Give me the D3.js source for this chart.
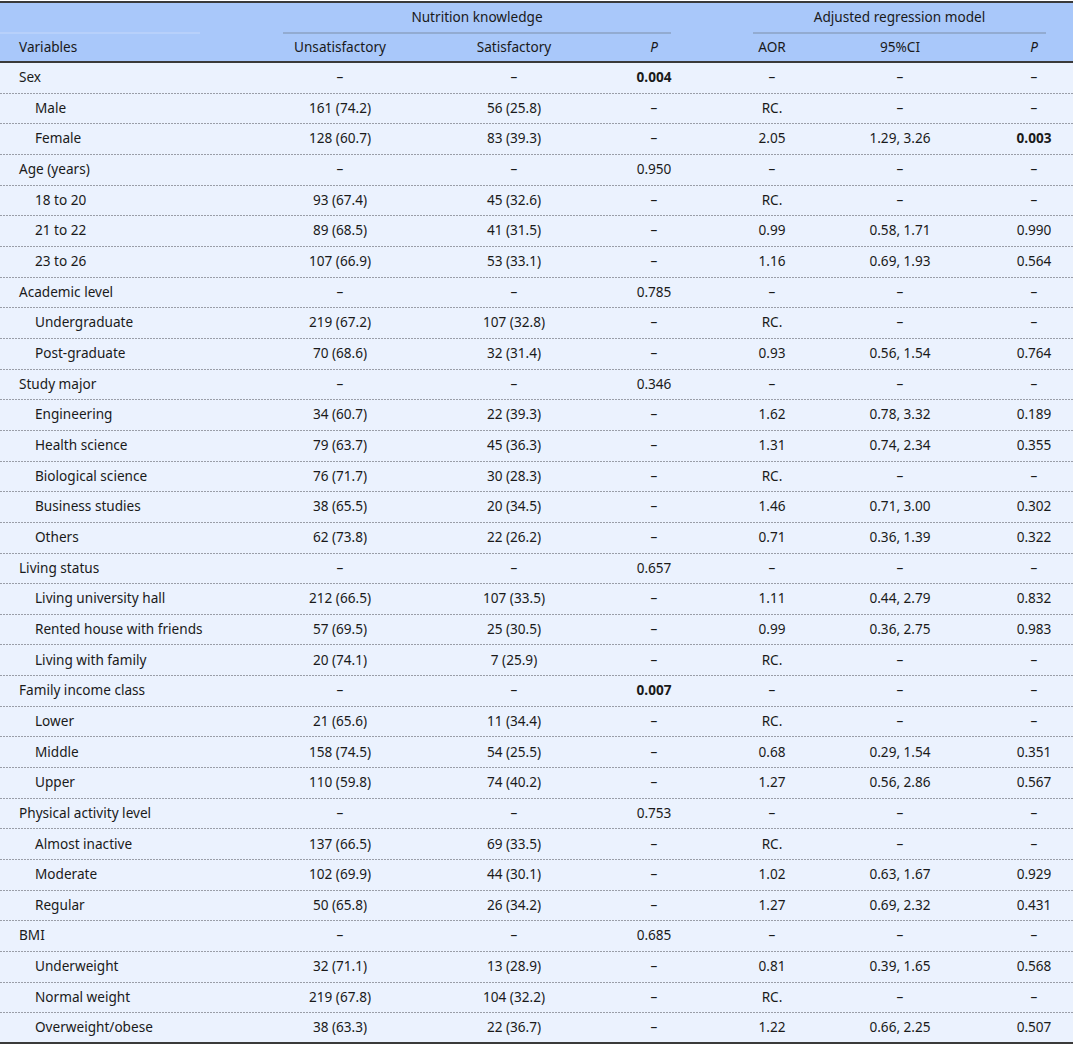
<!DOCTYPE html>
<html>
<head>
<meta charset="utf-8">
<script src="https://cdn.jsdelivr.net/npm/d3@7"></script>
<style>
  body { margin: 0; background: #fff; }
  text { font-family: "Noto Sans", sans-serif; font-size: 13.6px; fill: #1a1a1a; }
</style>
</head>
<body>
<div id="table"></div>
<script>
const W = 1073;
const H = 1046;
const HEAD_TOP = 2;
const HEAD_MID = 33;
const HEAD_BOTTOM = 62;
const BODY_BOTTOM = 1043;

// table content
const variables = [
  "Sex", "Male", "Female",
  "Age (years)", "18 to 20", "21 to 22", "23 to 26",
  "Academic level", "Undergraduate", "Post-graduate",
  "Study major", "Engineering", "Health science", "Biological science", "Business studies", "Others",
  "Living status", "Living university hall", "Rented house with friends", "Living with family",
  "Family income class", "Lower", "Middle", "Upper",
  "Physical activity level", "Almost inactive", "Moderate", "Regular",
  "BMI", "Underweight", "Normal weight", "Overweight/obese"
];
// 0 = variable heading, 1 = category
const levels = [0,1,1, 0,1,1,1, 0,1,1, 0,1,1,1,1,1, 0,1,1,1, 0,1,1,1, 0,1,1,1, 0,1,1,1];
const unsatisfactory = [
  "–", "161 (74.2)", "128 (60.7)",
  "–", "93 (67.4)", "89 (68.5)", "107 (66.9)",
  "–", "219 (67.2)", "70 (68.6)",
  "–", "34 (60.7)", "79 (63.7)", "76 (71.7)", "38 (65.5)", "62 (73.8)",
  "–", "212 (66.5)", "57 (69.5)", "20 (74.1)",
  "–", "21 (65.6)", "158 (74.5)", "110 (59.8)",
  "–", "137 (66.5)", "102 (69.9)", "50 (65.8)",
  "–", "32 (71.1)", "219 (67.8)", "38 (63.3)"
];
const satisfactory = [
  "–", "56 (25.8)", "83 (39.3)",
  "–", "45 (32.6)", "41 (31.5)", "53 (33.1)",
  "–", "107 (32.8)", "32 (31.4)",
  "–", "22 (39.3)", "45 (36.3)", "30 (28.3)", "20 (34.5)", "22 (26.2)",
  "–", "107 (33.5)", "25 (30.5)", "7 (25.9)",
  "–", "11 (34.4)", "54 (25.5)", "74 (40.2)",
  "–", "69 (33.5)", "44 (30.1)", "26 (34.2)",
  "–", "13 (28.9)", "104 (32.2)", "22 (36.7)"
];
const pKnowledge = [
  "0.004", "–", "–",
  "0.950", "–", "–", "–",
  "0.785", "–", "–",
  "0.346", "–", "–", "–", "–", "–",
  "0.657", "–", "–", "–",
  "0.007", "–", "–", "–",
  "0.753", "–", "–", "–",
  "0.685", "–", "–", "–"
];
const aor = [
  "–", "RC.", "2.05",
  "–", "RC.", "0.99", "1.16",
  "–", "RC.", "0.93",
  "–", "1.62", "1.31", "RC.", "1.46", "0.71",
  "–", "1.11", "0.99", "RC.",
  "–", "RC.", "0.68", "1.27",
  "–", "RC.", "1.02", "1.27",
  "–", "0.81", "RC.", "1.22"
];
const ci95 = [
  "–", "–", "1.29, 3.26",
  "–", "–", "0.58, 1.71", "0.69, 1.93",
  "–", "–", "0.56, 1.54",
  "–", "0.78, 3.32", "0.74, 2.34", "–", "0.71, 3.00", "0.36, 1.39",
  "–", "0.44, 2.79", "0.36, 2.75", "–",
  "–", "–", "0.29, 1.54", "0.56, 2.86",
  "–", "–", "0.63, 1.67", "0.69, 2.32",
  "–", "0.39, 1.65", "–", "0.66, 2.25"
];
const pAdjusted = [
  "–", "–", "0.003",
  "–", "–", "0.990", "0.564",
  "–", "–", "0.764",
  "–", "0.189", "0.355", "–", "0.302", "0.322",
  "–", "0.832", "0.983", "–",
  "–", "–", "0.351", "0.567",
  "–", "–", "0.929", "0.431",
  "–", "0.568", "–", "0.507"
];
const significant = ["0.004", "0.003", "0.007"];

const columnKeys = ["unsat", "sat", "pK", "aor", "ci", "pA"];
const columnHeads = ["Unsatisfactory", "Satisfactory", "P", "AOR", "95%CI", "P"];
const groupHeads = ["Nutrition knowledge", "Adjusted regression model"];

const columns = [unsatisfactory, satisfactory, pKnowledge, aor, ci95, pAdjusted];

// column centres
const colX = d3.scaleOrdinal().domain(columnKeys).range([340, 514, 654, 772, 900, 1034]);
const groupSpan = [[283, 671], [753, 1046]];

// rows
const rowY = d3.scaleBand()
  .domain(d3.range(variables.length))
  .range([HEAD_BOTTOM, BODY_BOTTOM]);

const svg = d3.select("#table")
  .append("svg")
  .attr("width", W)
  .attr("height", H);

// backgrounds
svg.append("rect")
  .attr("x", 0).attr("y", HEAD_TOP)
  .attr("width", W).attr("height", HEAD_BOTTOM - HEAD_TOP)
  .attr("fill", "#a9c8fa");
svg.append("rect")
  .attr("x", 0).attr("y", HEAD_BOTTOM)
  .attr("width", W).attr("height", BODY_BOTTOM - HEAD_BOTTOM)
  .attr("fill", "#ebf2fe");

// header, first row
svg.append("line")
  .attr("x1", 0).attr("x2", 200)
  .attr("y1", HEAD_MID).attr("y2", HEAD_MID)
  .attr("stroke", "#c6d9fb").attr("stroke-width", 1);

svg.selectAll(".group-head")
  .data(groupHeads)
  .join("text")
  .attr("class", "group-head")
  .attr("x", (d, i) => (groupSpan[i][0] + groupSpan[i][1]) / 2)
  .attr("y", (HEAD_TOP + HEAD_MID) / 2)
  .attr("dy", "0.35em")
  .attr("text-anchor", "middle")
  .text((d) => d);

svg.selectAll(".group-rule")
  .data(groupSpan)
  .join("line")
  .attr("class", "group-rule")
  .attr("x1", (d) => d[0]).attr("x2", (d) => d[1])
  .attr("y1", HEAD_MID).attr("y2", HEAD_MID)
  .attr("stroke", "#7d8fa8").attr("stroke-width", 1);

// header, second row
svg.append("text")
  .attr("x", 19)
  .attr("y", (HEAD_MID + HEAD_BOTTOM) / 2)
  .attr("dy", "0.35em")
  .text("Variables");

svg.selectAll(".col-head")
  .data(columnKeys)
  .join("text")
  .attr("class", "col-head")
  .attr("x", (d) => colX(d))
  .attr("y", (HEAD_MID + HEAD_BOTTOM) / 2)
  .attr("dy", "0.35em")
  .attr("text-anchor", "middle")
  .style("font-style", (d, i) => (columnHeads[i] === "P" ? "italic" : null))
  .text((d, i) => columnHeads[i]);

// body rows
const rows = svg.selectAll(".row")
  .data(variables)
  .join("g")
  .attr("class", "row")
  .attr("transform", (d, i) => `translate(0, ${rowY(i) + rowY.bandwidth() / 2})`);

rows.append("text")
  .attr("x", (d, i) => (levels[i] === 0 ? 19 : 35))
  .attr("dy", "0.35em")
  .text((d) => d);

columnKeys.forEach((key, c) => {
  rows.append("text")
    .attr("x", colX(key))
    .attr("dy", "0.35em")
    .attr("text-anchor", "middle")
    .style("font-weight", (d, i) =>
      (c === 2 || c === 5) && significant.includes(columns[c][i]) ? "bold" : null)
    .text((d, i) => columns[c][i]);
});

// dotted separators
svg.selectAll(".sep")
  .data(d3.range(1, variables.length))
  .join("line")
  .attr("class", "sep")
  .attr("x1", 0).attr("x2", W)
  .attr("y1", (i) => Math.round(rowY(i)) + 0.5)
  .attr("y2", (i) => Math.round(rowY(i)) + 0.5)
  .attr("stroke", "#9a9ea8")
  .attr("stroke-width", 1)
  .attr("stroke-dasharray", "2,1");

// heavy rules
[HEAD_TOP, HEAD_BOTTOM, BODY_BOTTOM].forEach((y) => {
  svg.append("line")
    .attr("x1", 0).attr("x2", W)
    .attr("y1", y).attr("y2", y)
    .attr("stroke", "#3a3a3a")
    .attr("stroke-width", 2);
});
</script>
</body>
</html>
